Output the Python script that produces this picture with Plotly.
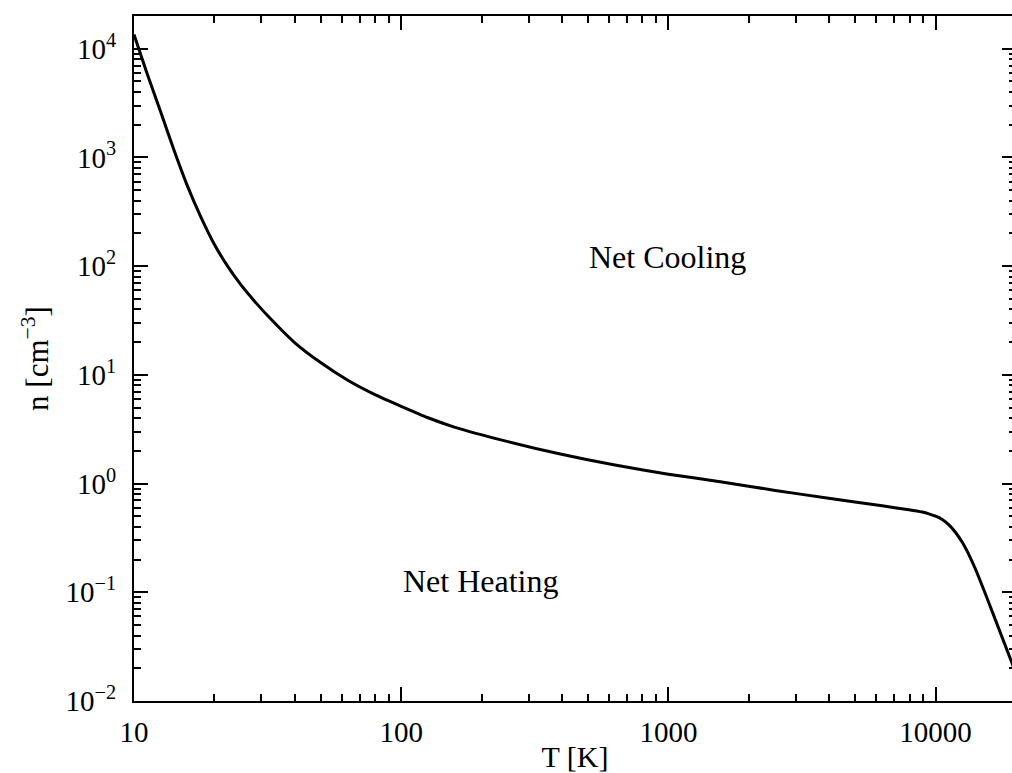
import numpy as np
import plotly.graph_objects as go

# curve: temperature (K) and density (cm^-3)
temperature = [10, 11.2, 12.6, 14.1, 15.8, 17.8, 20.0, 22.4, 25.1, 28.2, 31.6,
               39.8, 50.1, 63.1, 79.4, 100, 126, 158, 251, 398, 631, 1000, 1585,
               2512, 3981, 6310, 7943, 8913, 9441, 10000, 10593, 11220, 11885,
               12589, 13335, 14125, 15849, 17783, 19953]
density = [13490, 5890, 2600, 1175, 556, 282, 158, 100, 67.6, 47.9, 35.1,
           19.95, 12.9, 8.91, 6.61, 5.13, 4.03, 3.31, 2.43, 1.86, 1.48, 1.22, 1.035,
           0.865, 0.733, 0.624, 0.575, 0.547, 0.527, 0.501, 0.468, 0.417, 0.355,
           0.288, 0.221, 0.162, 0.0794, 0.038, 0.0182]

x_ticks = [10, 100, 1000, 10000]
x_labels = ["10", "100", "1000", "10000"]
y_ticks = [1e-2, 1e-1, 1, 10, 100, 1000, 1e4]
y_labels = ["10<sup>−2</sup>", "10<sup>−1</sup>", "10<sup>0</sup>", "10<sup>1</sup>",
            "10<sup>2</sup>", "10<sup>3</sup>", "10<sup>4</sup>"]

serif = "Liberation Serif"

fig = go.Figure()
fig.add_trace(go.Scatter(
    x=temperature, y=density, mode="lines",
    line=dict(color="black", width=3, shape="spline", smoothing=0.6),
    showlegend=False,
))

fig.add_annotation(x=np.log10(990), y=np.log10(122), text="Net Cooling",
                   showarrow=False, font=dict(family=serif, size=32, color="black"))
fig.add_annotation(x=np.log10(199), y=np.log10(0.126), text="Net Heating",
                   showarrow=False, font=dict(family=serif, size=32, color="black"))

axis_common = dict(
    showline=True, linecolor="black", linewidth=2, mirror="ticks",
    ticks="inside", ticklen=14, tickwidth=2, tickcolor="black",
    showgrid=False, zeroline=False, automargin=False,
    tickfont=dict(family=serif, size=29, color="black"),
    minor=dict(ticks="inside", ticklen=7, tickwidth=1.5, tickcolor="black",
               dtick="D1", showgrid=False),
)

# the original frame runs slightly past the right edge of the picture
fig.update_xaxes(type="log", range=[1, np.log10(2e4)],
                 tickvals=x_ticks, ticktext=x_labels, ticklabelstandoff=4,
                 title=dict(text="T [K]", font=dict(family=serif, size=30, color="black"),
                            standoff=0),
                 **axis_common)
fig.update_yaxes(type="log", range=[-2, np.log10(2e4)],
                 tickvals=y_ticks, ticktext=y_labels, ticklabelstandoff=10,
                 title=dict(text="n [cm<sup>−3</sup>]",
                            font=dict(family=serif, size=31, color="black"),
                            standoff=8),
                 **axis_common)

fig.update_layout(
    width=1016, height=773,
    margin=dict(l=134, r=0, t=16, b=72),
    plot_bgcolor="white", paper_bgcolor="white",
)

fig.write_html("out.html", config={"displayModeBar": False},
               post_script="document.body.style.margin='0';"
                           "document.body.style.overflow='hidden';")
